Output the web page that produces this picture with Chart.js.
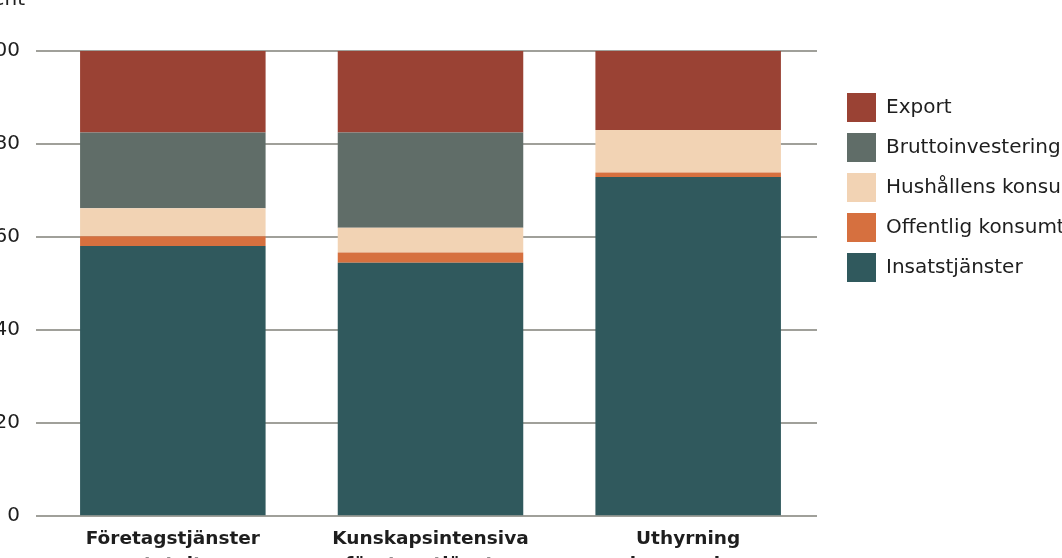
<!DOCTYPE html>
<html lang="sv">
<head>
<meta charset="utf-8">
<title>Andel av efterfrågan</title>
<script src="https://cdn.jsdelivr.net/npm/chart.js@4.4.1/dist/chart.umd.min.js"></script>
<style>
  html, body { margin: 0; padding: 0; background: #fff; overflow: hidden; }
  body { width: 1062px; height: 558px; position: relative; }
  #chart { position: absolute; left: -30px; top: -30px; }
</style>
</head>
<body>
<canvas id="chart" width="1140" height="640"></canvas>
<script>
// Kategorier och värden (procent)
const categories = [
  ['Företagstjänster', 'totalt'],
  ['Kunskapsintensiva', 'företagstjänster'],
  ['Uthyrning', 'bemanning']
];
const insatstjanster = [58.1, 54.5, 72.9];
const offentligKonsumtion = [2.1, 2.2, 1.0];
const hushallensKonsumtion = [6.0, 5.3, 9.1];
const bruttoinvesteringar = [16.3, 20.5, 0];
const exportAndel = [17.5, 17.5, 17.0];
const yTicks = [0, 20, 40, 60, 80, 100];

const fontFamily = '"DejaVu Sans", "Noto Sans", sans-serif';

// Enhetstext ovanför y-axeln
const enhetPlugin = {
  id: 'enhet',
  afterDraw(chart) {
    const ctx = chart.ctx;
    const y = chart.scales.y;
    ctx.save();
    ctx.font = '20px ' + fontFamily;
    ctx.fillStyle = '#1e1e1e';
    ctx.textAlign = 'right';
    ctx.textBaseline = 'alphabetic';
    ctx.fillText('Procent', y.right - 19, chart.chartArea.top - 46);
    ctx.restore();
  }
};

window.addEventListener('load', function() {
  const canvas = document.getElementById('chart');
  new Chart(canvas, {
    type: 'bar',
    data: {
      labels: categories,
      datasets: [
        { label: 'Insatstjänster', data: insatstjanster, backgroundColor: '#30595d' },
        { label: 'Offentlig konsumtion', data: offentligKonsumtion, backgroundColor: '#d6703f' },
        { label: 'Hushållens konsumtion', data: hushallensKonsumtion, backgroundColor: '#f2d3b4' },
        { label: 'Bruttoinvesteringar', data: bruttoinvesteringar, backgroundColor: '#606d68' },
        { label: 'Export', data: exportAndel, backgroundColor: '#9a4234' }
      ]
    },
    options: {
      responsive: false,
      devicePixelRatio: 1,
      animation: false,
      datasets: {
        bar: { barPercentage: 0.72, categoryPercentage: 1, borderWidth: 0 }
      },
      layout: { padding: { left: 17, top: 81, right: 44, bottom: 22 } },
      plugins: {
        tooltip: { enabled: false },
        legend: {
          position: 'right',
          align: 'start',
          reverse: true,
          maxWidth: 230,
          title: { display: true, text: ' ', font: { size: 10 }, padding: { top: 0, bottom: 19 } },
          labels: {
            boxWidth: 29,
            boxHeight: 29,
            padding: 11,
            color: '#1e1e1e',
            font: { family: fontFamily, size: 20 }
          }
        }
      },
      scales: {
        x: {
          stacked: true,
          grid: { display: false, drawTicks: false },
          border: { display: false },
          ticks: {
            padding: 10,
            color: '#1e1e1e',
            font: { family: fontFamily, size: 18.5, weight: 'bold', lineHeight: 1.4 },
            maxRotation: 0
          }
        },
        y: {
          stacked: true,
          min: 0,
          max: 100,
          afterFit(scale) { scale.width = 57; },
          afterBuildTicks(scale) { scale.ticks = yTicks.map(v => ({ value: v })); },
          grid: { color: '#a0a09a', lineWidth: 2, tickLength: 8 },
          border: { display: false },
          ticks: {
            padding: 16,
            color: '#1e1e1e',
            font: { family: fontFamily, size: 20 }
          }
        },
        luft: {
          position: 'right',
          display: true,
          afterFit(scale) { scale.width = 19; },
          grid: { display: false },
          border: { display: false },
          ticks: { display: false }
        }
      }
    },
    plugins: [enhetPlugin]
  });
});
</script>
</body>
</html>
